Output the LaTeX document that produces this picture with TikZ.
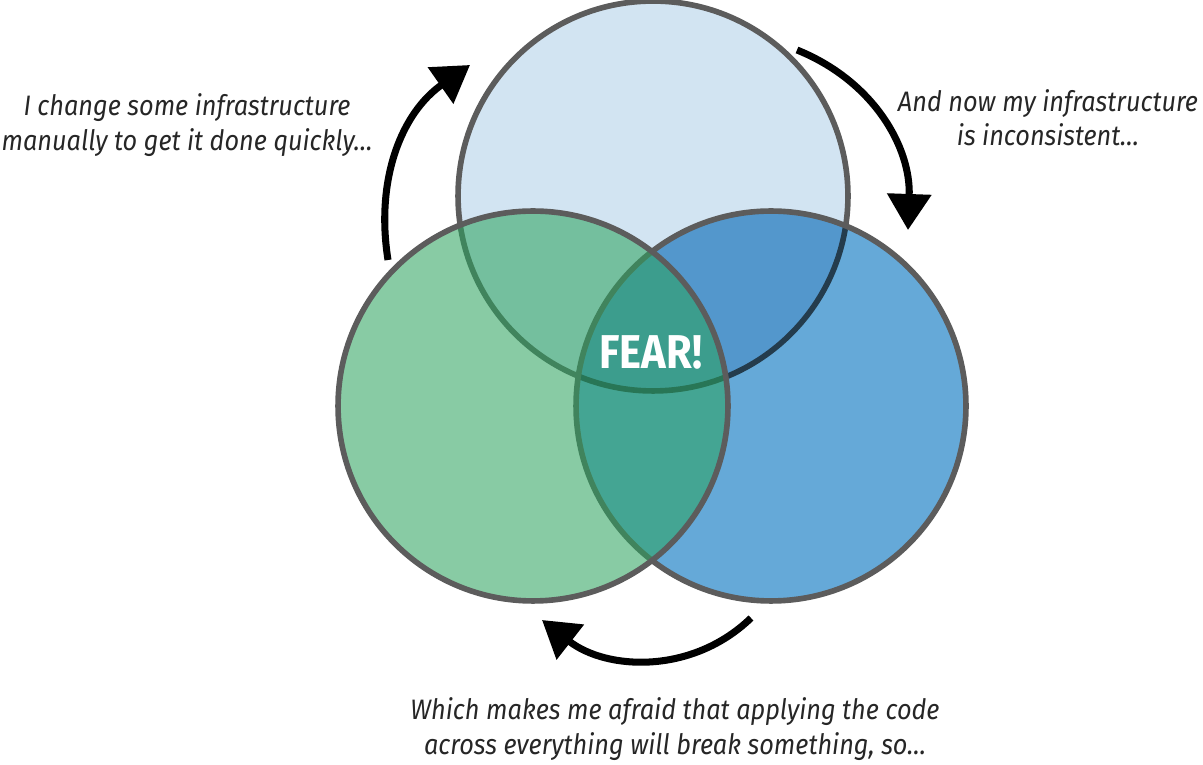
\documentclass[tikz,border=0pt]{standalone}
\usepackage{fontspec}
\setmainfont{Fira Sans}
\newfontfamily\notefont[FakeStretch=0.9]{Fira Sans}
\newfontfamily\fearfont[FakeStretch=0.88]{Fira Sans}
\usetikzlibrary{arrows.meta}
\definecolor{topblue}{RGB}{210,228,242}
\definecolor{rightblue}{RGB}{101,169,216}
\definecolor{leftgreen}{RGB}{44,163,94}
\definecolor{rimgray}{RGB}{92,92,92}
\begin{document}
\begin{tikzpicture}[
  x=0.02cm, y=0.02cm,
  ring/.style={circle, draw=rimgray, line width=3.2pt, minimum size=7.8cm, inner sep=0pt},
  note/.style={align=center, font=\notefont\itshape\fontsize{16}{19.5}\selectfont, text=black!85},
  cycle/.style={line width=4pt, -{Triangle[length=0.72cm, width=0.86cm]}}
]
\useasboundingbox (0,0) rectangle (1203,764);
\node[ring, fill=topblue] (top) at (653,568) {};
\node[ring, draw=none, fill=rightblue, blend mode=multiply] (right) at (771,358) {};
\node[ring] (rightrim) at (right) {};
\node[ring, fill=leftgreen, fill opacity=0.565] (left) at (533,358) {};
\node[text=white, font=\fearfont\bfseries\fontsize{27}{30}\selectfont] (fear) at (651,412) {FEAR!};

\node[note] (change) at (187,639) {I change some infrastructure\\manually to get it done quickly…};
\node[note] (drift) at (1048,646) {And now my infrastructure\\is inconsistent…};
\node[note] (afraid) at (675,35) {Which makes me afraid that applying the code\\across everything will break something, so…};

\coordinate (c1s) at (388,504);
\coordinate (c1e) at (470,699);
\coordinate (c2s) at (797,714);
\coordinate (c2e) at (908,534);
\coordinate (c3s) at (751,146);
\coordinate (c3e) at (542,144);
\draw[cycle] (c1s) to[out=99, in=215] (c1e);
\draw[cycle] (c2s) to[out=-22, in=88] (c2e);
\draw[cycle] (c3s) to[out=224, in=-38] (c3e);
\end{tikzpicture}
\end{document}
